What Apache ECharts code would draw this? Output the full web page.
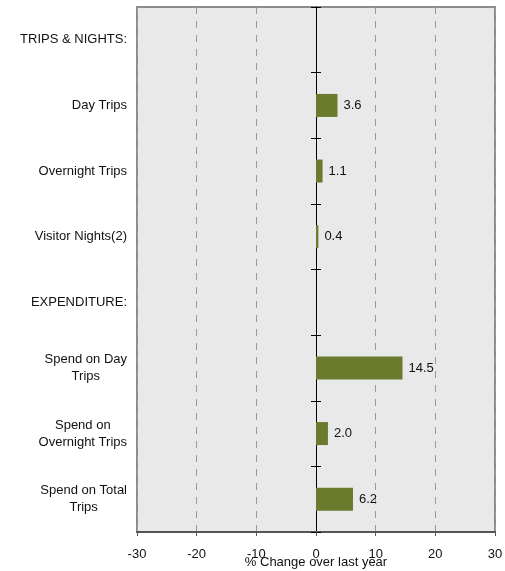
<!DOCTYPE html>
<html>
<head>
<meta charset="utf-8">
<script src="https://cdn.jsdelivr.net/npm/echarts@6/dist/echarts.min.js"></script>
<style>
  html, body { margin: 0; padding: 0; background: #fff; }
</style>
</head>
<body>
<div id="chart" style="width: 505px; height: 571px;"></div>
<script>
// categories top to bottom
const categories = [
    'TRIPS & NIGHTS:',
    'Day Trips',
    'Overnight Trips',
    'Visitor Nights(2)',
    'EXPENDITURE:',
    'Spend on Day\nTrips',
    'Spend on\nOvernight Trips',
    'Spend on Total\nTrips'
];
// % change over last year ('-' = heading row, no bar)
const changeValues = ['-', 3.6, 1.1, 0.4, '-', 14.5, 2.0, 6.2];
const xTicks = [-30, -20, -10, 0, 10, 20, 30];

const font = "'Liberation Sans', Arial, sans-serif";

var chartDom = document.getElementById('chart');
var myChart = echarts.init(chartDom);
var option;

option = {
    animation: false,
    textStyle: { fontFamily: font },
    grid: {
        left: 137,
        right: 10,
        top: 7,
        bottom: 39,
        outerBoundsMode: 'none',
        containLabel: false,
        show: true,
        backgroundColor: '#e9e9e9',
        borderColor: '#8c8c8c',
        borderWidth: 2
    },
    xAxis: {
        type: 'value',
        min: xTicks[0],
        max: xTicks[xTicks.length - 1],
        interval: 10,
        name: '% Change over last year',
        nameLocation: 'middle',
        nameGap: 24,
        nameMoveOverlap: false,
        nameTextStyle: { color: '#111', fontSize: 13, fontFamily: font },
        axisLine: { show: true, lineStyle: { color: '#555', width: 2 } },
        axisTick: { show: true, length: 4, lineStyle: { color: '#555' } },
        axisLabel: { color: '#111', fontSize: 13, margin: 16, fontFamily: font },
        splitLine: {
            show: true,
            lineStyle: { color: '#9a9a9a', type: [7, 7], width: 1 }
        }
    },
    yAxis: [
        {
            // labels on the left
            type: 'category',
            data: categories,
            inverse: true,
            position: 'left',
            axisLine: { show: false, onZero: false },
            axisTick: { show: false },
            axisLabel: {
                color: '#111',
                fontSize: 13,
                margin: 10,
                fontFamily: font,
                formatter: (value) => value.split('\n').map(s => '{c|' + s + '}').join('\n'),
                rich: {
                    c: { align: 'center', fontSize: 13, fontFamily: font, color: '#111', lineHeight: 17 }
                }
            }
        },
        {
            // zero line, ticks to the left
            type: 'category',
            data: categories,
            inverse: true,
            position: 'left',
            axisLine: { show: true, onZero: true, onZeroAxisIndex: 0, lineStyle: { color: '#000', width: 1 } },
            axisTick: { show: true, length: 5, lineStyle: { color: '#000' } },
            axisLabel: { show: false }
        },
        {
            // zero line, ticks to the right
            type: 'category',
            data: categories,
            inverse: true,
            position: 'left',
            axisLine: { show: true, onZero: true, onZeroAxisIndex: 0, lineStyle: { color: '#000', width: 1 } },
            axisTick: { show: true, inside: true, length: 5, lineStyle: { color: '#000' } },
            axisLabel: { show: false }
        }
    ],
    series: [
        {
            type: 'bar',
            yAxisIndex: 0,
            data: changeValues,
            barWidth: 23,
            itemStyle: { color: '#6b7b2d' },
            label: {
                show: true,
                position: 'right',
                distance: 6,
                color: '#111',
                fontSize: 13,
                fontFamily: font,
                formatter: (p) => Number(p.value).toFixed(1)
            }
        }
    ]
};

option && myChart.setOption(option);
</script>
</body>
</html>
